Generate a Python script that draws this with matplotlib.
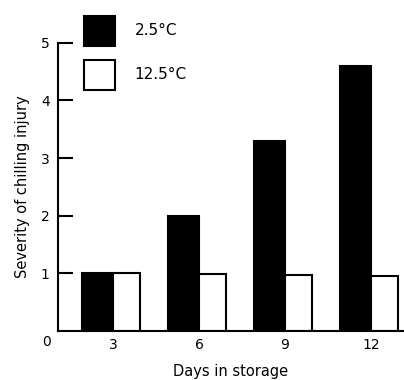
#Chilling injury vs days in storage, two storage temps

import matplotlib.pyplot as plt

days = [3, 6, 9, 12]
injury_cold = [1.0, 2.0, 3.3, 4.6]      # 2.5 C
injury_warm = [1.0, 0.98, 0.96, 0.95]   # 12.5 C
labels = ["2.5°C", "12.5°C"]
yticks = [1, 2, 3, 4, 5]

plt.rcParams["font.family"] = "DejaVu Sans"

fig = plt.figure(figsize=(4.04, 3.8), dpi=100)
ax = fig.add_axes([0.1436, 0.13, 0.8564, 0.757])

#black bars sit to the left of the tick, white ones to the right
b1 = ax.bar(days, injury_cold, width=-1.1, align="edge",
            color="black", edgecolor="black", linewidth=1.5, label=labels[0])
b2 = ax.bar(days, injury_warm, width=0.95, align="edge",
            color="white", edgecolor="black", linewidth=1.5, label=labels[1])

ax.set_xlim(1.08, 13.15)
ax.set_ylim(0, 5)
ax.set_xticks(days)
ax.set_yticks(yticks)
ax.tick_params(axis="x", length=0, pad=5, labelsize=10)
ax.tick_params(axis="y", direction="in", length=11, width=1.5, pad=6, labelsize=10)

for s in ["top", "right"]:
    ax.spines[s].set_visible(False)
for s in ["left", "bottom"]:
    ax.spines[s].set_linewidth(1.5)

ax.text(-0.032, -0.038, "0", transform=ax.transAxes, ha="center", va="center", fontsize=10)

ax.set_xlabel("Days in storage", fontsize=10.5, labelpad=9)
ax.set_ylabel("Severity of chilling injury", fontsize=10.5, labelpad=8)

fig.legend(handles=[b1, b2], loc="upper left", bbox_to_anchor=(0.188, 0.978),
           frameon=False, borderpad=0, handlelength=2.05, handleheight=2.6,
           labelspacing=0.95, handletextpad=1.3, fontsize=11)

plt.savefig("out.png", dpi=100)
plt.close()
